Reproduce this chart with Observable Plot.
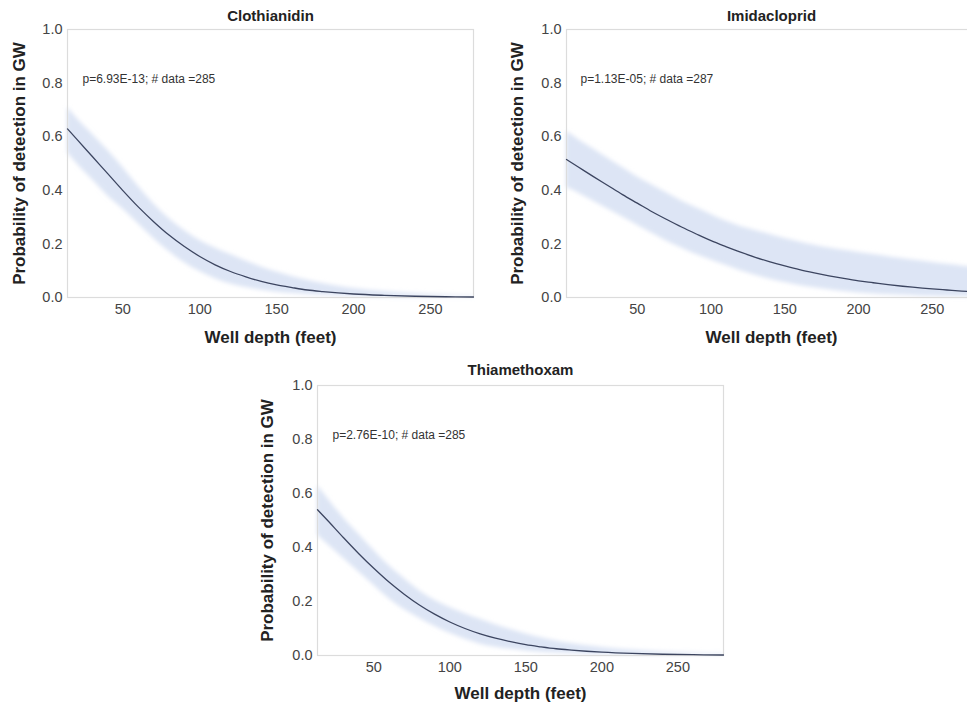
<!DOCTYPE html>
<html>
<head>
<meta charset="utf-8">
<script src="https://cdn.jsdelivr.net/npm/d3@7"></script>
<script src="https://cdn.jsdelivr.net/npm/@observablehq/plot@0.6"></script>
<style>
  html, body { margin: 0; padding: 0; background: #fff; overflow: hidden; }
  #wrap { position: relative; width: 967px; height: 706px; overflow: hidden; font-family: "Liberation Sans", Arial, sans-serif; }
  .panel { position: absolute; }
  .panel svg { max-width: none !important; }
</style>
</head>
<body>
<div id="wrap"></div>
<script>
// ---------- Data ----------
const yTicks = [0, 0.2, 0.4, 0.6, 0.8, 1.0];
const xTicks = [50, 100, 150, 200, 250];
const yLabel = "Probability of detection in GW";
const xLabel = "Well depth (feet)";

// Clothianidin
const clothTitle = "Clothianidin";
const clothNote = "p=6.93E-13; # data =285";
const clothDepth = [14, 20, 30, 40, 50, 60, 70, 80, 90, 100, 110, 120, 130, 140, 150, 160, 170, 180, 190, 200, 220, 240, 260, 278];
const clothProb  = [0.629, 0.591, 0.527, 0.463, 0.399, 0.338, 0.283, 0.233, 0.190, 0.153, 0.122, 0.097, 0.077, 0.060, 0.047, 0.037, 0.028, 0.022, 0.017, 0.013, 0.008, 0.0047, 0.0028, 0.0018];
const clothLower = [0.54, 0.50, 0.44, 0.38, 0.33, 0.275, 0.22, 0.172, 0.13, 0.097, 0.07, 0.05, 0.037, 0.027, 0.02, 0.015, 0.011, 0.008, 0.006, 0.004, 0.002, 0.001, 0.0005, 0.0003];
const clothUpper = [0.71, 0.67, 0.61, 0.55, 0.485, 0.415, 0.35, 0.295, 0.25, 0.213, 0.185, 0.16, 0.136, 0.114, 0.095, 0.078, 0.064, 0.052, 0.042, 0.034, 0.022, 0.014, 0.009, 0.006];

// Imidacloprid
const imiTitle = "Imidacloprid";
const imiNote = "p=1.13E-05; # data =287";
const imiDepth = [2, 10, 20, 30, 40, 50, 60, 70, 80, 90, 100, 110, 120, 130, 140, 150, 160, 170, 180, 190, 200, 210, 220, 230, 240, 250, 260, 270, 280];
const imiProb  = [0.515, 0.487, 0.452, 0.418, 0.384, 0.352, 0.320, 0.291, 0.263, 0.237, 0.212, 0.190, 0.169, 0.150, 0.133, 0.118, 0.104, 0.092, 0.081, 0.071, 0.062, 0.055, 0.048, 0.042, 0.037, 0.032, 0.028, 0.024, 0.021];
const imiLower = [0.41, 0.39, 0.36, 0.33, 0.30, 0.27, 0.24, 0.21, 0.185, 0.16, 0.14, 0.12, 0.10, 0.083, 0.068, 0.056, 0.045, 0.036, 0.029, 0.022, 0.017, 0.013, 0.010, 0.008, 0.006, 0.005, 0.004, 0.003, 0.002];
const imiUpper = [0.62, 0.59, 0.555, 0.52, 0.485, 0.45, 0.42, 0.39, 0.36, 0.335, 0.31, 0.285, 0.265, 0.25, 0.235, 0.22, 0.207, 0.195, 0.185, 0.176, 0.168, 0.16, 0.152, 0.145, 0.138, 0.131, 0.124, 0.118, 0.112];

// Thiamethoxam
const thiaTitle = "Thiamethoxam";
const thiaNote = "p=2.76E-10; # data =285";
const thiaDepth = [13, 20, 30, 40, 50, 60, 70, 80, 90, 100, 110, 120, 130, 140, 150, 160, 170, 180, 190, 200, 220, 240, 260, 280];
const thiaProb  = [0.540, 0.498, 0.437, 0.378, 0.323, 0.272, 0.227, 0.187, 0.153, 0.124, 0.100, 0.080, 0.064, 0.051, 0.040, 0.032, 0.025, 0.020, 0.0157, 0.0123, 0.0076, 0.0047, 0.0029, 0.0018];
const thiaLower = [0.445, 0.41, 0.36, 0.31, 0.26, 0.21, 0.17, 0.138, 0.108, 0.082, 0.06, 0.042, 0.031, 0.023, 0.017, 0.012, 0.009, 0.007, 0.005, 0.004, 0.002, 0.001, 0.0006, 0.0003];
const thiaUpper = [0.63, 0.58, 0.51, 0.45, 0.39, 0.333, 0.285, 0.24, 0.205, 0.178, 0.155, 0.134, 0.114, 0.096, 0.08, 0.066, 0.054, 0.044, 0.036, 0.03, 0.02, 0.013, 0.009, 0.006];

// ---------- Drawing ----------
const FONT = '"Liberation Sans", Arial, sans-serif';

function rows(depth, prob, lower, upper) {
  return depth.map((d, i) => ({depth: d, prob: prob[i], lower: lower[i], upper: upper[i]}));
}

function panel(cfg) {
  const data = rows(cfg.depth, cfg.prob, cfg.lower, cfg.upper);
  const chart = Plot.plot({
    width: cfg.width,
    height: cfg.height,
    marginLeft: cfg.ml, marginRight: cfg.mr, marginTop: cfg.mt, marginBottom: cfg.mb,
    style: {fontFamily: FONT, fontSize: "14.5px", color: "#444", background: "transparent", overflow: "visible", maxWidth: "none"},
    x: {domain: cfg.xDomain},
    y: {domain: [0, 1]},
    marks: [
      Plot.areaY(data, {x: "depth", y1: "lower", y2: "upper", fill: "#d4def3", fillOpacity: 0.8, curve: "monotone-x", className: "band"}),
      Plot.frame({stroke: "#dcdcdc", strokeWidth: 1.2}),
      Plot.lineY(data, {x: "depth", y: "prob", stroke: "#3c4560", strokeWidth: 1.3, curve: "monotone-x"}),
      Plot.axisY({ticks: yTicks, tickFormat: d3.format(".1f"), tickSize: 0, tickPadding: 5,
        label: yLabel, labelAnchor: "center", labelArrow: "none", labelOffset: cfg.yLabelOffset,
        fill: "#444", fontSize: 14.5}),
      Plot.axisX({ticks: xTicks, tickSize: 0, tickPadding: 6,
        label: xLabel, labelAnchor: "center", labelArrow: "none", labelOffset: cfg.xLabelOffset,
        fill: "#444", fontSize: 14.5}),
      Plot.text([cfg.title], {text: d => d, frameAnchor: "top", dy: cfg.titleDy, fontWeight: "bold", fontSize: 15, fill: "#222"}),
      Plot.text([cfg.note], {text: d => d, frameAnchor: "top-left", textAnchor: "start", dx: cfg.noteDx, dy: 45, fontSize: 12, fill: "#333"})
    ]
  });
  // bold axis labels
  d3.select(chart).selectAll("g[aria-label='y-axis label'] text, g[aria-label='x-axis label'] text")
    .attr("font-weight", "bold").attr("font-size", 17).attr("fill", "#222");
  // soft blur on the confidence band
  const svg = d3.select(chart);
  const fid = "blur-" + cfg.id;
  svg.insert("defs", ":first-child").append("filter").attr("id", fid)
    .attr("x", "-5%").attr("y", "-5%").attr("width", "110%").attr("height", "110%")
    .append("feGaussianBlur").attr("stdDeviation", 2);
  svg.selectAll(".band path, g.band path").attr("filter", `url(#${fid})`);
  const div = document.createElement("div");
  div.className = "panel";
  div.style.left = cfg.left + "px";
  div.style.top = cfg.top + "px";
  div.style.width = cfg.width + "px";
  div.style.height = cfg.height + "px";
  div.appendChild(chart);
  document.getElementById("wrap").appendChild(div);
}

panel({id: "c", title: clothTitle, note: clothNote, depth: clothDepth, prob: clothProb, lower: clothLower, upper: clothUpper,
  left: 0, top: 0, width: 480, height: 350, ml: 67, mr: 7, mt: 29, mb: 53, xDomain: [14, 278],
  yLabelOffset: 55, xLabelOffset: 45, titleDy: -19, noteDx: 15});

panel({id: "i", title: imiTitle, note: imiNote, depth: imiDepth, prob: imiProb, lower: imiLower, upper: imiUpper,
  left: 480, top: 0, width: 500, height: 350, ml: 86, mr: 4, mt: 29, mb: 53, xDomain: [2, 280],
  yLabelOffset: 56, xLabelOffset: 45, titleDy: -19, noteDx: 14});

panel({id: "t", title: thiaTitle, note: thiaNote, depth: thiaDepth, prob: thiaProb, lower: thiaLower, upper: thiaUpper,
  left: 240, top: 355, width: 490, height: 351, ml: 77, mr: 7, mt: 30, mb: 51, xDomain: [13, 280],
  yLabelOffset: 57, xLabelOffset: 43, titleDy: -21, noteDx: 15});
</script>
</body>
</html>
